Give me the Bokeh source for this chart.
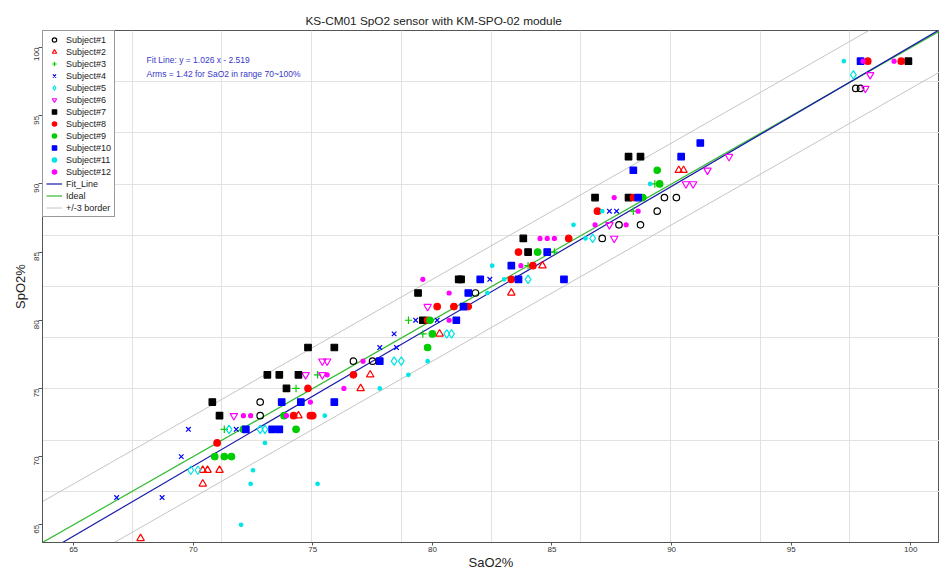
import math
from bokeh.plotting import figure
from bokeh.models import Range1d, FixedTicker, Legend, LegendItem, Label
from bokeh.embed import file_html
from bokeh.resources import INLINE

FONT = "Liberation Sans"

# ---------------- data ----------------
x_ticks = [65, 70, 75, 80, 85, 90, 95, 100]
y_ticks = [65, 70, 75, 80, 85, 90, 95, 100]
x_usr = (63.7, 101.2)      # plotting region of the original (R usr)
y_usr = (63.7, 101.25)
fit_slope, fit_intercept = 1.026, -2.519
arms = 1.42
border = 3

s1_sao2 = [72.8, 72.8, 76.7, 77.5, 81.8, 87.1, 87.8, 88.7, 89.4, 89.7, 90.2, 97.7, 97.9]
s1_spo2 = [74, 73, 77, 77, 82, 86, 87, 87, 88, 89, 89, 97, 97]
s2_sao2 = [67.8, 70.4, 70.4, 70.6, 71.1, 74.4, 77.0, 77.4, 80.3, 83.3, 84.6, 90.3, 90.5]
s2_spo2 = [64, 68, 69, 69, 69, 73, 75, 76, 79, 82, 84, 91, 91]
s3_sao2 = [71.3, 74.3, 75.2, 79.0, 79.6, 84.0, 85.1, 88.4, 89.3]
s3_spo2 = [72, 75, 76, 80, 79, 84, 85, 88, 90]
s4_sao2 = [66.8, 68.7, 69.5, 69.8, 71.8, 77.8, 78.5, 78.4, 79.3, 80.2, 82.4, 87.4, 87.7]
s4_spo2 = [67, 67, 70, 72, 72, 78, 78, 79, 80, 80, 83, 88, 88]
s5_sao2 = [69.9, 70.2, 71.5, 72.8, 73.0, 78.4, 78.7, 80.6, 80.8, 84.0, 86.7, 97.6]
s5_spo2 = [69, 69, 72, 72, 72, 77, 77, 79, 79, 83, 86, 98]
s6_sao2 = [71.7, 74.7, 75.4, 75.4, 75.6, 79.8, 87.4, 87.6, 90.6, 90.9, 91.5, 92.4, 98.1, 98.3]
s6_spo2 = [73, 76, 76, 77, 77, 81, 87, 86, 90, 90, 91, 92, 97, 98]
s7_sao2 = [70.8, 71.1, 73.1, 73.6, 74.4, 73.9, 74.8, 75.9, 79.4, 79.6, 81.1, 81.2, 83.8, 84.0,
           86.8, 88.2, 88.2, 88.7, 99.9]
s7_spo2 = [74, 73, 76, 76, 76, 75, 78, 78, 82, 80, 83, 83, 86, 85, 89, 89, 92, 92, 99]
s8_sao2 = [71.0, 74.2, 74.8, 74.9, 75.0, 76.7, 79.8, 80.2, 80.9, 81.5, 83.3, 83.6, 84.2, 85.7,
           86.9, 88.4, 98.2, 99.6]
s8_spo2 = [71, 73, 75, 73, 73, 76, 80, 81, 81, 81, 83, 85, 84, 86, 88, 89, 99, 99]
s9_sao2 = [70.9, 71.3, 71.6, 72.1, 74.3, 73.8, 79.8, 79.9, 80.0, 84.4, 88.8, 89.4, 89.5]
s9_spo2 = [70, 70, 70, 72, 72, 73, 78, 80, 79, 85, 89, 91, 90]
s10_sao2 = [72.2, 73.3, 73.6, 73.7, 74.5, 75.9, 77.8, 81.0, 81.3, 81.5, 82.0, 83.3, 83.6, 84.8,
            85.5, 88.6, 88.4, 90.4, 91.2, 97.9]
s10_spo2 = [72, 72, 72, 74, 74, 74, 77, 80, 81, 82, 83, 84, 83, 85, 83, 89, 91, 92, 93, 99]
s11_sao2 = [72.0, 72.4, 75.2, 72.5, 73.0, 75.5, 77.8, 79.0, 79.8, 82.3, 82.5, 83.0, 85.9, 86.4,
            87.1, 89.1, 97.2]
s11_spo2 = [65, 68, 68, 69, 71, 73, 75, 76, 77, 82, 84, 83, 87, 86, 88, 90, 99]
s12_sao2 = [72.1, 72.4, 73.9, 74.9, 75.6, 76.3, 77.1, 80.7, 80.7, 79.6, 83.7, 84.5, 84.8, 85.1,
            86.8, 87.6, 88.1, 88.6, 98.0, 99.3]
s12_spo2 = [73, 73, 73, 74, 76, 75, 77, 80, 82, 83, 84, 86, 86, 86, 87, 89, 87, 88, 99, 99]

subject_labels = ["Subject#%d" % i for i in range(1, 13)]
line_labels = ["Fit_Line", "Ideal", "+/-3 border"]

# ---------------- styles ----------------
BLACK, RED, GREEN, BLUE, CYAN, MAGENTA = "#000000", "#ff0000", "#00cd00", "#0000ff", "#00e5e5", "#ff00ff"
styles = [
    dict(marker="circle", color=BLACK, fill=False, size=6.5),
    dict(marker="triangle", color=RED, fill=False, size=7.5),
    dict(marker="cross", color=GREEN, fill=False, size=7.5),
    dict(marker="x", color=BLUE, fill=False, size=6.5),
    dict(marker="diamond", color=CYAN, fill=False, size=8.5),
    dict(marker="inverted_triangle", color=MAGENTA, fill=False, size=7.5),
    dict(marker="square", color=BLACK, fill=True, size=6.5),
    dict(marker="circle", color=RED, fill=True, size=6.5),
    dict(marker="circle", color=GREEN, fill=True, size=6.5),
    dict(marker="square", color=BLUE, fill=True, size=6.5),
    dict(marker="circle", color=CYAN, fill=True, size=3.5),
    dict(marker="circle", color=MAGENTA, fill=True, size=4),
]
series = [(s1_sao2, s1_spo2), (s2_sao2, s2_spo2), (s3_sao2, s3_spo2), (s4_sao2, s4_spo2),
          (s5_sao2, s5_spo2), (s6_sao2, s6_spo2), (s7_sao2, s7_spo2), (s8_sao2, s8_spo2),
          (s9_sao2, s9_spo2), (s10_sao2, s10_spo2), (s11_sao2, s11_spo2), (s12_sao2, s12_spo2)]

p = figure(width=939, height=572, output_backend="svg", toolbar_location=None,
           x_range=Range1d(*x_usr), y_range=Range1d(*y_usr),
           min_border_left=42, min_border_top=30, min_border_right=0, min_border_bottom=29)

p.title.text = "KS-CM01 SpO2 sensor with KM-SPO-02 module"
p.title.text_font = FONT
p.title.text_font_size = "11.8px"
p.title.text_font_style = "normal"
p.title.text_color = "#222222"
p.title.align = "left"
p.title.vertical_align = "middle"
p.title.offset = 263
p.title.standoff = 4

p.outline_line_color = "#555555"
p.background_fill_color = "white"

# grid: 10 x 10 division of plotting region
gx = [x_usr[0] + (x_usr[1] - x_usr[0]) * k / 10 for k in range(1, 10)]
gy = [y_usr[0] + (y_usr[1] - y_usr[0]) * k / 10 for k in range(1, 10)]
p.xgrid.ticker = FixedTicker(ticks=gx)
p.ygrid.ticker = FixedTicker(ticks=gy)
p.grid.grid_line_color = "#e2e2e2"
p.grid.grid_line_width = 1

for ax, ticks in ((p.xaxis, x_ticks), (p.yaxis, y_ticks)):
    ax.ticker = FixedTicker(ticks=ticks)
    ax.major_label_text_font = FONT
    ax.major_label_text_font_size = "8px"
    ax.major_label_text_color = "#333333"
    ax.axis_line_color = "#555555"
    ax.major_tick_line_color = "#555555"
    ax.minor_tick_line_color = None
    ax.major_tick_in = 0
    ax.major_tick_out = 4
    ax.major_label_standoff = 2
    ax.axis_label_text_font = FONT
    ax.axis_label_text_font_style = "normal"
    ax.axis_label_text_font_size = "13px"
    ax.axis_label_text_color = "#222222"
    ax.axis_label_standoff = 1
p.xaxis.major_tick_out = 3
p.xaxis.major_label_standoff = 1
p.xaxis.axis_label_standoff = 0
p.xaxis.axis_label = "SaO2%"
p.yaxis.axis_label = "SpO2%"
p.yaxis.major_label_orientation = math.pi / 2

# lines
lx = [55, 110]
r_border_hi = p.line(lx, [v + border for v in lx], line_color="#c4c4c4", line_width=1)
r_border_lo = p.line(lx, [v - border for v in lx], line_color="#c4c4c4", line_width=1)
r_ideal = p.line(lx, lx, line_color="#33bb33", line_width=1.2)
r_fit = p.line(lx, [fit_slope * v + fit_intercept for v in lx], line_color="#1a1aa8", line_width=1.2)

renderers = []
for (xs, ys), st in zip(series, styles):
    kw = dict(marker=st["marker"], size=st["size"], line_color=st["color"], line_width=1.2)
    kw["fill_color"] = st["color"] if st["fill"] else None
    renderers.append(p.scatter(xs, ys, **kw))

items = [LegendItem(label=lab, renderers=[r]) for lab, r in zip(subject_labels, renderers)]
items += [LegendItem(label=line_labels[0], renderers=[r_fit]),
          LegendItem(label=line_labels[1], renderers=[r_ideal]),
          LegendItem(label=line_labels[2], renderers=[r_border_hi])]
legend = Legend(items=items, location="top_left", margin=0, padding=3, spacing=1,
                glyph_height=11, glyph_width=16, label_height=11, label_standoff=4,
                label_text_font=FONT, label_text_font_size="9px", label_text_color="#222222",
                border_line_color="#333333", border_line_width=1,
                background_fill_color="white", background_fill_alpha=1)
p.add_layout(legend)

txt1 = "Fit Line: y = %.3f x - %.3f" % (fit_slope, -fit_intercept)
txt2 = "Arms = %.2f for SaO2 in range 70~100%%" % arms
for t, yy in ((txt1, 99.07), (txt2, 98.05)):
    p.add_layout(Label(x=68.05, y=yy, text=t, text_font=FONT, text_font_size="8.5px",
                       text_color="#3838c8", text_baseline="middle"))

open("out.html", "w").write(file_html(p, INLINE))
